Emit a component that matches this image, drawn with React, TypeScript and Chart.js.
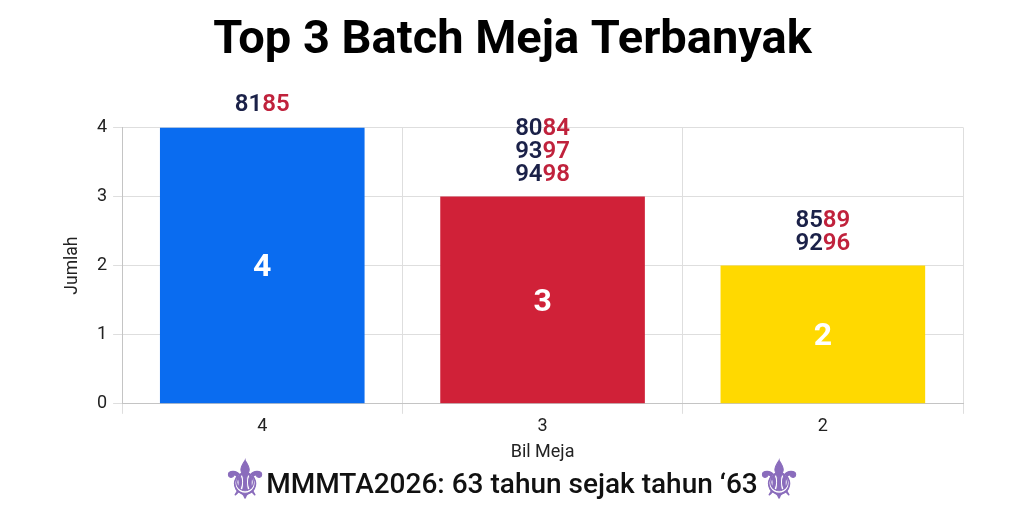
import React, { useEffect, useRef } from "react";
import { Chart, registerables } from "chart.js";

Chart.register(...registerables);

const categories = ["4", "3", "2"];
const counts = [4, 3, 2];
const batches = [["8185"], ["8084", "9397", "9498"], ["8589", "9296"]];
const barColors = ["#0a6cf0", "#d02138", "#ffd900"];
const chartTitle = "Top 3 Batch Meja Terbanyak";
const caption = "MMMTA2026: 63 tahun sejak tahun ‘63";
const fleur = "\u269C";
const xTitle = "Bil Meja";
const yTitle = "Jumlah";

const FONT = "Roboto";
const NAVY = "#1b2148";
const RED = "#c0223c";
const PURPLE = "#8a6cbc";

const annotate = {
  id: "annotate",
  afterDatasetsDraw(chart: any) {
    const { ctx } = chart;
    const meta = chart.getDatasetMeta(0);
    ctx.save();
    ctx.textBaseline = "middle";
    meta.data.forEach((bar: any, i: number) => {
      ctx.font = `700 32px ${FONT}`;
      ctx.fillStyle = "#ffffff";
      ctx.textAlign = "center";
      ctx.fillText(String(counts[i]), bar.x, (bar.y + bar.base) / 2 + 3);
      ctx.font = `600 24px ${FONT}`;
      const lines = batches[i];
      lines.forEach((line, j) => {
        const y = bar.y - 22 - (lines.length - 1 - j) * 23;
        const a = line.slice(0, 2);
        const b = line.slice(2);
        const w = ctx.measureText(line).width;
        const x0 = bar.x - w / 2;
        ctx.textAlign = "left";
        ctx.fillStyle = NAVY;
        ctx.fillText(a, x0, y);
        ctx.fillStyle = RED;
        ctx.fillText(b, x0 + ctx.measureText(a).width, y);
      });
    });
    const cy = 486;
    ctx.font = `500 28px ${FONT}`;
    const tw = ctx.measureText(caption).width;
    ctx.textAlign = "left";
    ctx.fillStyle = "#111111";
    ctx.fillText(caption, 512 - tw / 2, cy);
    ctx.font = `52px "DejaVu Sans"`;
    ctx.fillStyle = PURPLE;
    ctx.strokeStyle = PURPLE;
    ctx.lineWidth = 1;
    ctx.textAlign = "center";
    for (const x of [245, 779]) {
      ctx.fillText(fleur, x, cy - 2);
      ctx.strokeText(fleur, x, cy - 2);
    }
    ctx.restore();
  },
};

export default function App() {
  const ref = useRef<HTMLCanvasElement>(null);
  useEffect(() => {
    document.body.style.margin = "0";
    const chart = new Chart(ref.current!, {
      type: "bar",
      data: {
        labels: categories,
        datasets: [
          {
            data: counts,
            backgroundColor: barColors,
            barPercentage: 0.73,
            categoryPercentage: 1,
          },
        ],
      },
      options: {
        animation: false,
        responsive: false,
        layout: { padding: { left: 62, right: 61, top: 0, bottom: 43 } },
        plugins: {
          legend: { display: false },
          tooltip: { enabled: false },
          title: {
            display: true,
            text: chartTitle,
            color: "#000000",
            font: { family: FONT, size: 47, weight: "bold" },
            padding: { top: 13, bottom: 58 },
          },
        },
        scales: {
          x: {
            grid: { color: "#dedede", tickLength: 10, offset: true },
            border: { color: "#c4c4c4" },
            ticks: { color: "#222222", font: { family: FONT, size: 18 }, padding: 2 },
            title: { display: true, text: xTitle, color: "#222222", font: { family: FONT, size: 18 }, padding: { top: 2, bottom: 0 } },
          },
          y: {
            min: 0,
            max: 4,
            grid: { color: "#dedede", tickLength: 9 },
            border: { color: "#c4c4c4" },
            ticks: { stepSize: 1, color: "#222222", font: { family: FONT, size: 18 }, padding: 6 },
            title: { display: true, text: yTitle, color: "#222222", font: { family: FONT, size: 17.5 }, padding: { top: 0, bottom: 8 } },
          },
        },
      },
      plugins: [annotate],
    } as any);
    return () => chart.destroy();
  }, []);
  return <canvas ref={ref} width={1024} height={506} style={{ display: "block", background: "#fff" }} />;
}
